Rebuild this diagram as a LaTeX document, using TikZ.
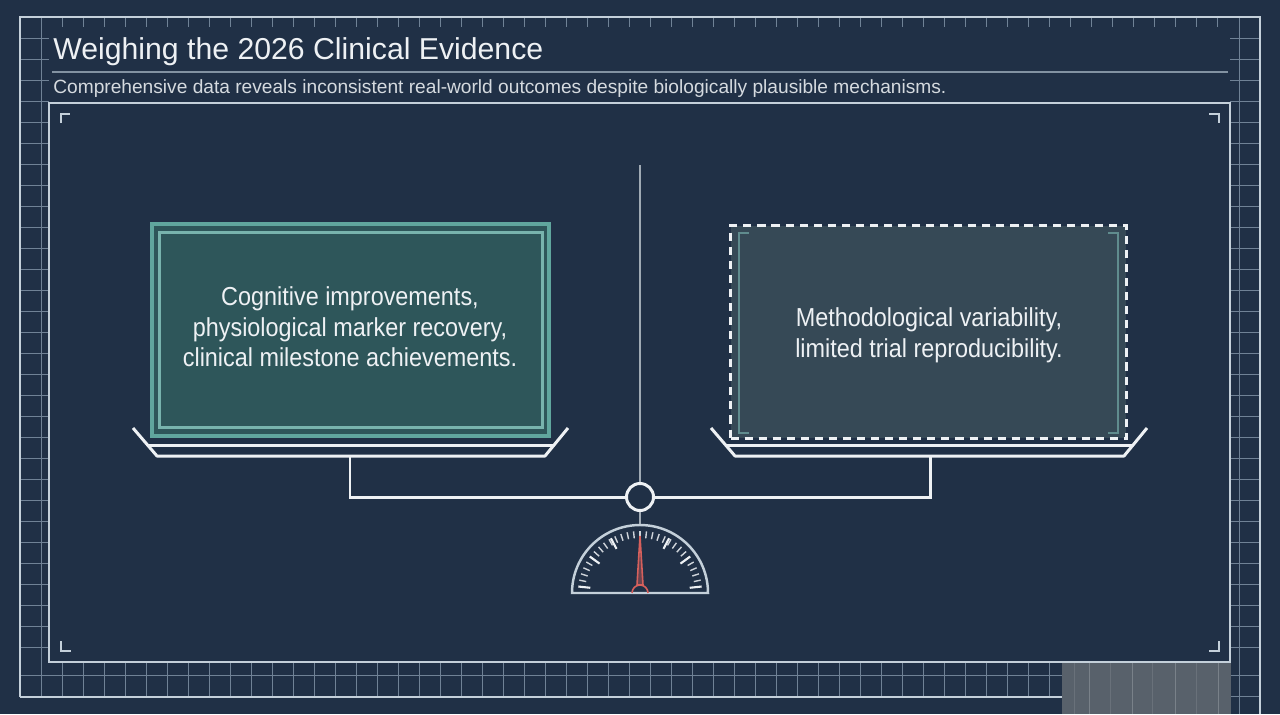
\documentclass[tikz,border=0pt]{standalone}
\usepackage{fontspec}
\setmainfont{Liberation Sans}
\newfontfamily\narrowfont[FakeStretch=0.9]{Liberation Sans}
\usetikzlibrary{calc}

\definecolor{bgnavy}{RGB}{32,48,70}
\definecolor{frameline}{RGB}{196,208,218}
\definecolor{gridgray}{RGB}{112,130,150}
\definecolor{rulegray}{RGB}{130,146,162}
\definecolor{tealedge}{RGB}{96,166,158}
\definecolor{tealfill}{RGB}{46,86,90}
\definecolor{slatefill}{RGB}{54,73,86}
\definecolor{bracketgray}{RGB}{96,140,142}
\definecolor{needlered}{RGB}{214,96,92}
\definecolor{inkwhite}{RGB}{238,241,244}
\definecolor{blockgray}{RGB}{88,97,107}
\definecolor{polegray}{RGB}{160,170,180}

\begin{document}
\begin{tikzpicture}[x=0.02cm,y=-0.02cm,
  gridln/.style={draw=gridgray,line width=0.45pt},
  frameln/.style={draw=frameline,line width=1.1pt},
  cornerln/.style={draw=frameline,line width=0.9pt},
  whiteln/.style={draw=inkwhite,line width=1.7pt},
  goodbox/.style={draw=tealedge,line width=2.3pt,fill=tealfill,
    minimum width=7.94cm,minimum height=4.24cm,inner sep=0pt},
  doubtbox/.style={draw=inkwhite,line width=1.7pt,dash pattern=on 4.6pt off 3.4pt,
    fill=slatefill,minimum width=7.92cm,minimum height=4.26cm,inner sep=0pt},
  boxtext/.style={text=inkwhite,align=center,
    font=\narrowfont\fontsize{14.8}{17.4}\selectfont},
  needleln/.style={draw=needlered,line width=0.9pt}]

  \useasboundingbox (0,0) rectangle (1280,714);
  \fill[bgnavy] (0,0) rectangle (1280,714);

  \foreach \y in {38,59,...,660}
    \draw[gridln] (20,\y) -- (49,\y) (1230,\y) -- (1260,\y);
  \foreach \x in {41,62,...,1062}
    \draw[gridln] (\x,662) -- (\x,697);
  \foreach \x in {62,83,...,1230}
    \draw[gridln] (\x,17) -- (\x,27);
  \draw[gridln] (41,17) -- (41,697) (1239,17) -- (1239,714)
    (20,675) -- (1260,675) (1230,696) -- (1260,696);

  \fill[blockgray] (1062,662) rectangle (1231,714);
  \foreach \x in {1089,1132,1175,1218}
    \draw[draw=blockgray!80!white,line width=0.5pt] (\x,662) -- (\x,714);
  \foreach \x in {1074,1110,1152,1196}
    \draw[draw=blockgray!90!white,line width=0.4pt] (\x,662) -- (\x,714);

  \draw[frameln] (20,697) -- (20,17) -- (1260,17) -- (1260,714);
  \draw[frameln] (20,697) -- (1062,697);
  \draw[frameln] (49,103) rectangle (1230,662);
  \draw[draw=rulegray,line width=0.9pt] (52,72) -- (1228,72);

  \draw[cornerln] (61,123) -- (61,114) -- (70,114);
  \draw[cornerln] (1209,114) -- (1219,114) -- (1219,123);
  \draw[cornerln] (61,641) -- (61,651) -- (71,651);
  \draw[cornerln] (1209,651) -- (1219,651) -- (1219,641);

  \node[anchor=base west,text=inkwhite,font=\fontsize{17.2}{20}\selectfont,inner sep=0pt]
    (title) at (53,59) {Weighing the 2026 Clinical Evidence};
  \node[anchor=base west,text=inkwhite!88!bgnavy,font=\fontsize{10.9}{13}\selectfont,inner sep=0pt]
    (subtitle) at (53,93) {Comprehensive data reveals inconsistent real-world outcomes despite biologically plausible mechanisms.};

  \node[circle,draw=inkwhite,line width=1.7pt,fill=bgnavy,minimum size=0.54cm,inner sep=0pt]
    (pivot) at (640,497) {};
  \coordinate (poletop) at (640,165);
  \coordinate (gaugetop) at (640,525);
  \draw[draw=polegray,line width=0.8pt] (poletop) -- (pivot.north);
  \draw[draw=polegray,line width=0.8pt] (pivot.south) -- (gaugetop);

  \coordinate (lhang) at (350,456);
  \coordinate (rhang) at (930,456);
  \draw[whiteln] (lhang) |- (pivot.west);
  \draw[whiteln] (rhang) |- (pivot.east);

  \draw[whiteln,line join=round] (133,428) -- (157,456) -- (545,456) -- (568,428);
  \draw[whiteln] (148,445) -- (554,445);
  \draw[whiteln,line join=round] (711,428) -- (735,456) -- (1124,456) -- (1147,428);
  \draw[whiteln] (726,445) -- (1133,445);

  \node[goodbox] (pro) at (350.5,330) {};
  \draw[draw=tealedge!85!white,line width=1.6pt]
    ($(pro.north west)+(9.5,10.5)$) rectangle ($(pro.south east)+(-8.5,-10.5)$);
  \node[boxtext] (protext) at (350,327)
    {Cognitive improvements,\\physiological marker recovery,\\clinical milestone achievements.};

  \node[doubtbox] (con) at (928.5,332) {};
  \draw[draw=bracketgray,line width=1.1pt] (749,233) -- (739,233) -- (739,433) -- (749,433);
  \draw[draw=bracketgray,line width=1.1pt] (1108,233) -- (1118,233) -- (1118,433) -- (1108,433);
  \node[boxtext] (context) at (929,335)
    {Methodological variability,\\limited trial reproducibility.};

  \begin{scope}[shift={(640,593)},y=0.02cm]
    \draw[draw=frameline,line width=1.4pt] (-68,0) arc (180:0:68) -- cycle;
    \foreach \a in {12,18,...,168}
      \draw[draw=inkwhite!85!bgnavy,line width=0.8pt] (\a:55) -- (\a:62);
    \foreach \a in {6,36,62,118,144,174}
      \draw[draw=inkwhite,line width=1.2pt] (\a:50) -- (\a:62);
    \draw[needleln] (-8,0) arc (180:0:8);
    \draw[needleln,fill=needlered!40!bgnavy] (-3,8) -- (0,57) -- (3,8) -- cycle;
  \end{scope}
\end{tikzpicture}
\end{document}
